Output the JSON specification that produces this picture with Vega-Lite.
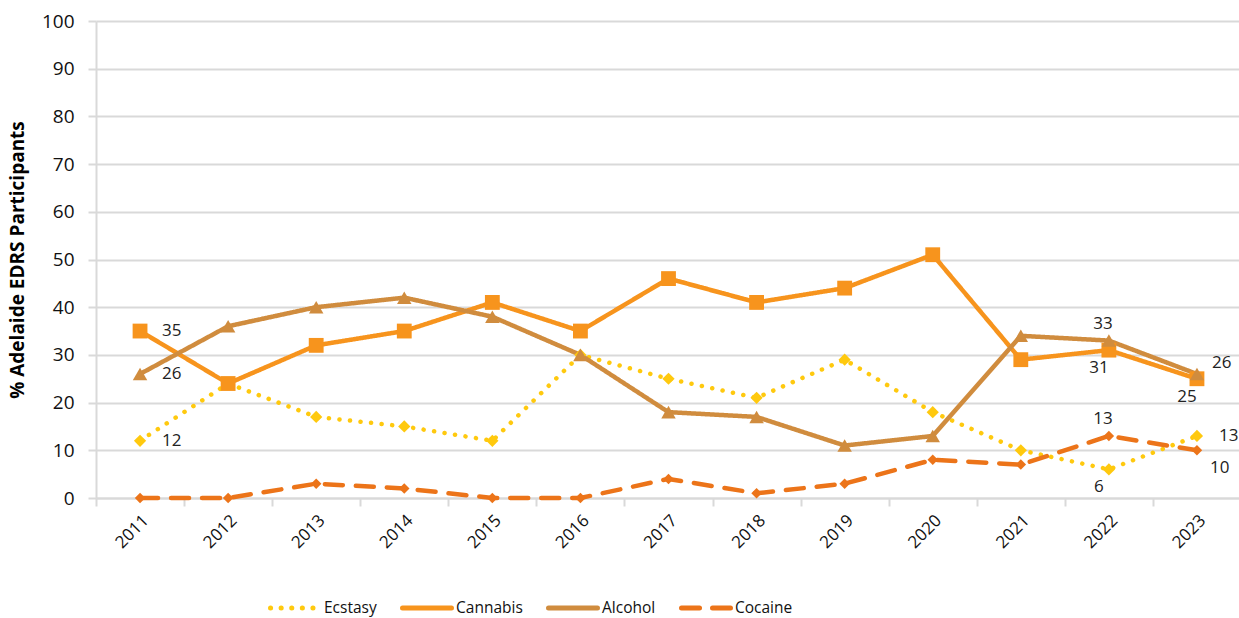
{
  "$schema": "https://vega.github.io/schema/vega-lite/v6.json",
  "width": 1145,
  "height": 477,
  "autosize": {"type": "none"},
  "padding": {"left": 96, "top": 21, "right": 0, "bottom": 120},
  "background": "white",
  "config": {
    "font": "Open Sans",
    "view": {"stroke": null},
    "axis": {"labelFont": "Open Sans", "titleFont": "Open Sans"}
  },
  "data": {
    "values": [
      {"year": "2011", "series": "Ecstasy", "value": 12},
      {"year": "2012", "series": "Ecstasy", "value": 24},
      {"year": "2013", "series": "Ecstasy", "value": 17},
      {"year": "2014", "series": "Ecstasy", "value": 15},
      {"year": "2015", "series": "Ecstasy", "value": 12},
      {"year": "2016", "series": "Ecstasy", "value": 30},
      {"year": "2017", "series": "Ecstasy", "value": 25},
      {"year": "2018", "series": "Ecstasy", "value": 21},
      {"year": "2019", "series": "Ecstasy", "value": 29},
      {"year": "2020", "series": "Ecstasy", "value": 18},
      {"year": "2021", "series": "Ecstasy", "value": 10},
      {"year": "2022", "series": "Ecstasy", "value": 6},
      {"year": "2023", "series": "Ecstasy", "value": 13},
      {"year": "2011", "series": "Cannabis", "value": 35},
      {"year": "2012", "series": "Cannabis", "value": 24},
      {"year": "2013", "series": "Cannabis", "value": 32},
      {"year": "2014", "series": "Cannabis", "value": 35},
      {"year": "2015", "series": "Cannabis", "value": 41},
      {"year": "2016", "series": "Cannabis", "value": 35},
      {"year": "2017", "series": "Cannabis", "value": 46},
      {"year": "2018", "series": "Cannabis", "value": 41},
      {"year": "2019", "series": "Cannabis", "value": 44},
      {"year": "2020", "series": "Cannabis", "value": 51},
      {"year": "2021", "series": "Cannabis", "value": 29},
      {"year": "2022", "series": "Cannabis", "value": 31},
      {"year": "2023", "series": "Cannabis", "value": 25},
      {"year": "2011", "series": "Alcohol", "value": 26},
      {"year": "2012", "series": "Alcohol", "value": 36},
      {"year": "2013", "series": "Alcohol", "value": 40},
      {"year": "2014", "series": "Alcohol", "value": 42},
      {"year": "2015", "series": "Alcohol", "value": 38},
      {"year": "2016", "series": "Alcohol", "value": 30},
      {"year": "2017", "series": "Alcohol", "value": 18},
      {"year": "2018", "series": "Alcohol", "value": 17},
      {"year": "2019", "series": "Alcohol", "value": 11},
      {"year": "2020", "series": "Alcohol", "value": 13},
      {"year": "2021", "series": "Alcohol", "value": 34},
      {"year": "2022", "series": "Alcohol", "value": 33},
      {"year": "2023", "series": "Alcohol", "value": 26},
      {"year": "2011", "series": "Cocaine", "value": 0},
      {"year": "2012", "series": "Cocaine", "value": 0},
      {"year": "2013", "series": "Cocaine", "value": 3},
      {"year": "2014", "series": "Cocaine", "value": 2},
      {"year": "2015", "series": "Cocaine", "value": 0},
      {"year": "2016", "series": "Cocaine", "value": 0},
      {"year": "2017", "series": "Cocaine", "value": 4},
      {"year": "2018", "series": "Cocaine", "value": 1},
      {"year": "2019", "series": "Cocaine", "value": 3},
      {"year": "2020", "series": "Cocaine", "value": 8},
      {"year": "2021", "series": "Cocaine", "value": 7},
      {"year": "2022", "series": "Cocaine", "value": 13},
      {"year": "2023", "series": "Cocaine", "value": 10}
    ]
  },
  "encoding": {
    "x": {
      "field": "year",
      "type": "ordinal",
      "scale": {"type": "band", "paddingInner": 0, "paddingOuter": 0},
      "axis": {
        "title": null,
        "labelAngle": -45,
        "labelFontSize": 17,
        "labelColor": "#111111",
        "labelPadding": 6,
        "tickBand": "extent",
        "tickColor": "#d9d9d9",
        "tickWidth": 2,
        "tickSize": 8,
        "domainColor": "#d9d9d9",
        "domainWidth": 2,
        "grid": false
      }
    },
    "y": {
      "field": "value",
      "type": "quantitative",
      "scale": {"domain": [0, 100]},
      "axis": {
        "title": "% Adelaide EDRS Participants",
        "titleFontSize": 19,
        "titleFontWeight": "bold",
        "titleColor": "#000000",
        "titlePadding": 14,
        "values": [0, 10, 20, 30, 40, 50, 60, 70, 80, 90, 100],
        "labelFontSize": 19,
        "labelColor": "#111111",
        "labelPadding": 14,
        "gridColor": "#d9d9d9",
        "gridWidth": 2,
        "tickColor": "#d9d9d9",
        "tickWidth": 2,
        "tickSize": 8,
        "domainColor": "#d9d9d9",
        "domainWidth": 2
      }
    }
  },
  "layer": [
    {
      "mark": {"type": "line", "strokeWidth": 4.5, "strokeCap": "round", "strokeJoin": "round"},
      "encoding": {
        "x": {"field": "year", "type": "ordinal", "bandPosition": 0.5},
        "color": {
          "field": "series",
          "type": "nominal",
          "sort": ["Ecstasy", "Cannabis", "Alcohol", "Cocaine"],
          "scale": {
            "domain": ["Ecstasy", "Cannabis", "Alcohol", "Cocaine"],
            "range": ["#FFC90E", "#F7941D", "#D08C3E", "#EC7419"]
          },
          "legend": {
            "title": null,
            "orient": "none",
            "direction": "horizontal",
            "legendX": 172,
            "legendY": 560,
            "symbolType": "stroke",
            "symbolStrokeWidth": 5,
            "symbolSize": 2400,
            "labelFontSize": 15.5,
            "labelColor": "#111111",
            "labelOffset": 2,
            "columnPadding": 15,
            "encode": {"symbols": {"update": {"strokeCap": {"value": "round"}}}}
          }
        },
        "strokeDash": {
          "field": "series",
          "type": "nominal",
          "scale": {
            "domain": ["Ecstasy", "Cannabis", "Alcohol", "Cocaine"],
            "range": [[0.1, 10.5], [1, 0], [1, 0], [18, 13]]
          }
        },
        "order": {"field": "year"}
      }
    },
    {
      "mark": {"type": "point", "filled": true, "opacity": 1, "strokeWidth": 0},
      "encoding": {
        "x": {"field": "year", "type": "ordinal", "bandPosition": 0.5},
        "color": {"field": "series", "type": "nominal"},
        "shape": {
          "condition": [
            {"test": "datum.series == 'Cannabis'", "value": "square"},
            {"test": "datum.series == 'Alcohol'", "value": "triangle-up"}
          ],
          "value": "diamond"
        },
        "size": {
          "condition": [
            {"test": "datum.series == 'Ecstasy'", "value": 150},
            {"test": "datum.series == 'Cannabis'", "value": 220},
            {"test": "datum.series == 'Alcohol'", "value": 210}
          ],
          "value": 110
        }
      }
    },
    {
      "transform": [{"filter": "(datum.year == '2011' && datum.series != 'Cocaine') || (datum.year == '2023' && datum.series == 'Ecstasy')"}],
      "mark": {"type": "text", "align": "left", "baseline": "middle", "dx": 22, "fontSize": 17, "color": "#222222"},
      "encoding": {"x": {"field": "year", "type": "ordinal", "bandPosition": 0.5}, "text": {"field": "value"}}
    },
    {
      "transform": [{"filter": "datum.year == '2022' && (datum.series == 'Alcohol' || datum.series == 'Cocaine')"}],
      "mark": {"type": "text", "align": "center", "baseline": "middle", "dx": -6, "dy": -17, "fontSize": 17, "color": "#222222"},
      "encoding": {"x": {"field": "year", "type": "ordinal", "bandPosition": 0.5}, "text": {"field": "value"}}
    },
    {
      "transform": [{"filter": "(datum.year == '2022' && (datum.series == 'Cannabis' || datum.series == 'Ecstasy')) || (datum.year == '2023' && datum.series == 'Cannabis')"}],
      "mark": {"type": "text", "align": "center", "baseline": "middle", "dx": -10, "dy": 18, "fontSize": 17, "color": "#222222"},
      "encoding": {"x": {"field": "year", "type": "ordinal", "bandPosition": 0.5}, "text": {"field": "value"}}
    },
    {
      "transform": [{"filter": "datum.year == '2023' && datum.series == 'Alcohol'"}],
      "mark": {"type": "text", "align": "left", "baseline": "middle", "dx": 15, "dy": -11, "fontSize": 17, "color": "#222222"},
      "encoding": {"x": {"field": "year", "type": "ordinal", "bandPosition": 0.5}, "text": {"field": "value"}}
    },
    {
      "transform": [{"filter": "datum.year == '2023' && datum.series == 'Cocaine'"}],
      "mark": {"type": "text", "align": "left", "baseline": "middle", "dx": 13, "dy": 18, "fontSize": 17, "color": "#222222"},
      "encoding": {"x": {"field": "year", "type": "ordinal", "bandPosition": 0.5}, "text": {"field": "value"}}
    }
  ]
}
